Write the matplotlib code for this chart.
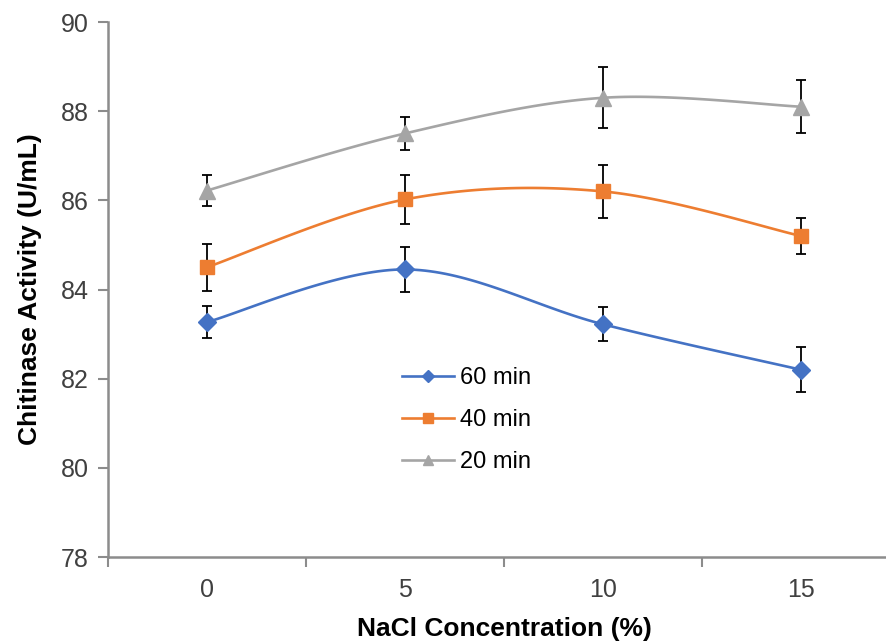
import matplotlib.pyplot as plt
import numpy as np

plt.rcParams['font.family'] = ['Liberation Sans', 'DejaVu Sans']

nacl = [0, 5, 10, 15]
series = ["60 min", "40 min", "20 min"]
act_60 = [83.27, 84.45, 83.22, 82.2]
err_60 = [0.36, 0.5, 0.38, 0.5]
act_40 = [84.5, 86.02, 86.2, 85.2]
err_40 = [0.53, 0.55, 0.6, 0.4]
act_20 = [86.22, 87.5, 88.3, 88.1]
err_20 = [0.35, 0.36, 0.68, 0.6]

colors = ["#4472C4", "#ED7D31", "#A5A5A5"]
markers = ["D", "s", "^"]
msizes = [9, 10.5, 11]


def smooth(x, y, n=40):
    # Excel-like smoothed line (Catmull-Rom style Bezier segments)
    x = np.asarray(x, float)
    y = np.asarray(y, float)
    px = np.concatenate([[x[0]], x, [x[-1]]])
    py = np.concatenate([[y[0]], y, [y[-1]]])
    xs, ys = [], []
    t = np.linspace(0, 1, n)
    for i in range(1, len(px) - 2):
        p0 = np.array([px[i], py[i]])
        p3 = np.array([px[i + 1], py[i + 1]])
        c1 = p0 + (np.array([px[i + 1], py[i + 1]]) - np.array([px[i - 1], py[i - 1]])) / 6
        c2 = p3 - (np.array([px[i + 2], py[i + 2]]) - np.array([px[i], py[i]])) / 6
        b = ((1 - t) ** 3)[:, None] * p0 + (3 * (1 - t) ** 2 * t)[:, None] * c1 \
            + (3 * (1 - t) * t ** 2)[:, None] * c2 + (t ** 3)[:, None] * p3
        xs.extend(b[:, 0])
        ys.extend(b[:, 1])
    return xs, ys


fig = plt.figure(figsize=(8.87, 6.43), dpi=100)
ax = fig.add_axes([108 / 887, 86 / 643, 792 / 887, 535 / 643])

for vals, errs, name, c, m, ms in zip([act_60, act_40, act_20], [err_60, err_40, err_20],
                                      series, colors, markers, msizes):
    sx, sy = smooth(nacl, vals)
    ax.plot(sx, sy, color=c, lw=1.9, zorder=2)
    ax.errorbar(nacl, vals, yerr=errs, fmt="none", ecolor="black", elinewidth=1.3,
                capsize=3.5, capthick=1.3, zorder=3)
    ax.plot(nacl, vals, linestyle="none", marker=m, color=c, markersize=ms, zorder=4)
    ax.plot([], [], color=c, lw=1.9, marker=m, markersize=ms * 0.7, label=name)

ax.set_xlim(-2.5, 17.5)
ax.set_ylim(78, 90)
ax.set_yticks(range(78, 91, 2))
ax.set_xticks(nacl)
ax.set_xticks([-2.5, 2.5, 7.5, 12.5, 17.5], minor=True)
ax.tick_params(axis="x", which="major", length=0, labelsize=18, pad=15, labelcolor="#404040")
ax.tick_params(axis="x", which="minor", length=7, width=1.5, color="#8c8c8c")
ax.tick_params(axis="y", length=7, width=1.5, color="#8c8c8c", labelsize=18,
               pad=7, labelcolor="#404040")

for s in ["top", "right"]:
    ax.spines[s].set_visible(False)
for s in ["left", "bottom"]:
    ax.spines[s].set_color("#8c8c8c")
    ax.spines[s].set_linewidth(1.8)

ax.set_xlabel("NaCl Concentration (%)", fontsize=19, fontweight="bold", labelpad=11)
ax.set_ylabel("Chitinase Activity (U/mL)", fontsize=19, fontweight="bold", labelpad=13)

ax.legend(loc="upper left", bbox_to_anchor=((402 - 108) / 792, (557 - 367) / 535),
          frameon=False, fontsize=17, handlelength=2.2, handletextpad=0.25,
          labelspacing=0.85, borderpad=0, borderaxespad=0)

fig.savefig("out.png", dpi=100)
